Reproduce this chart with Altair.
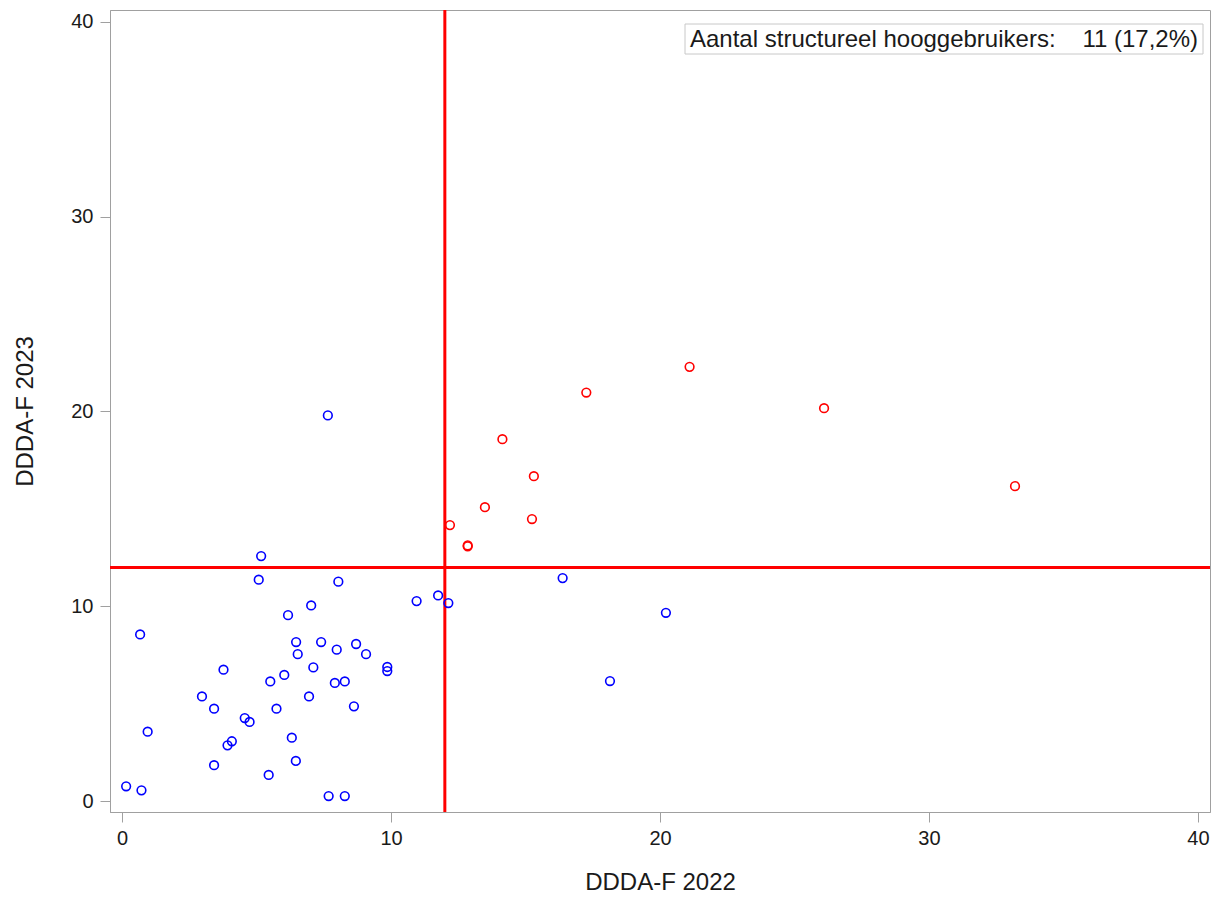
import altair as alt
import pandas as pd

# Values (DDDA-F 2022 vs DDDA-F 2023)
blue_x = [5.17, 5.08, 8.04, 7.03, 6.17, 10.95, 11.75, 12.13, 0.67, 6.47, 7.40, 8.70,
          6.53, 7.98, 9.07, 7.11, 9.86, 9.86, 3.77, 6.03, 5.51, 7.91, 8.28, 2.97,
          6.95, 3.42, 5.74, 8.62, 4.56, 4.74, 0.95, 6.31, 4.08, 3.92, 3.42, 6.46,
          5.45, 0.15, 0.72, 7.68, 8.28, 7.65, 16.38, 20.22, 18.14]
blue_y = [12.58, 11.37, 11.27, 10.05, 9.55, 10.27, 10.56, 10.17, 8.56, 8.17, 8.17, 8.07,
          7.55, 7.78, 7.55, 6.87, 6.89, 6.68, 6.75, 6.48, 6.15, 6.07, 6.15, 5.38,
          5.38, 4.75, 4.75, 4.87, 4.27, 4.07, 3.57, 3.26, 3.08, 2.87, 1.85, 2.07,
          1.35, 0.77, 0.56, 0.27, 0.27, 19.80, 11.45, 9.67, 6.17]
red_x = [12.19, 12.85, 12.85, 13.49, 14.14, 15.24, 15.31, 17.26, 21.10, 26.10, 33.20]
red_y = [14.17, 13.13, 13.08, 15.09, 18.58, 14.48, 16.68, 20.97, 22.29, 20.17, 16.17]

threshold_x = 12
threshold_y = 12
axis_ticks = [0, 10, 20, 30, 40]
box_label = "Aantal structureel hooggebruikers:"
box_value = "11 (17,2%)"

df = pd.DataFrame({
    "x": blue_x + red_x,
    "y": blue_y + red_y,
    "g": ["laag"] * len(blue_x) + ["hoog"] * len(red_x),
})

FONT = "Liberation Sans"
GRAY = "#a0a0a0"

xs = alt.Scale(domain=[-0.45, 40.45], nice=False, zero=False)
ys = alt.Scale(domain=[-0.55, 40.6], nice=False, zero=False)

xaxis = alt.Axis(values=axis_ticks, title="DDDA-F 2022", grid=False, tickSize=10,
                 labelPadding=6, labelFontSize=20, labelFont=FONT, labelColor="#1a1a1a",
                 titleFont=FONT, titleFontSize=24, titleFontWeight="normal",
                 titleColor="#1a1a1a", titleY=70, titleBaseline="middle",
                 domainColor=GRAY, tickColor=GRAY)
yaxis = alt.Axis(values=axis_ticks, title="DDDA-F 2023", grid=False, tickSize=10,
                 labelPadding=7, labelFontSize=20, labelFont=FONT, labelColor="#1a1a1a",
                 titleFont=FONT, titleFontSize=24, titleFontWeight="normal",
                 titleColor="#1a1a1a", titleX=-85, titleBaseline="middle",
                 domainColor=GRAY, tickColor=GRAY)

points = alt.Chart(df).mark_point(shape="circle", filled=False, size=75, strokeWidth=1.6,
                                  opacity=1).encode(
    x=alt.X("x:Q", scale=xs, axis=xaxis),
    y=alt.Y("y:Q", scale=ys, axis=yaxis),
    color=alt.Color("g:N", scale=alt.Scale(domain=["laag", "hoog"], range=["#0000ff", "#ff0000"]),
                    legend=None),
)

one = pd.DataFrame({"a": [0]})
vline = alt.Chart(one).mark_rule(color="#ff0000", strokeWidth=3).encode(
    x=alt.datum(threshold_x, scale=xs))
hline = alt.Chart(one).mark_rule(color="#ff0000", strokeWidth=3).encode(
    y=alt.datum(threshold_y, scale=ys))

box = alt.Chart(one).mark_rect(fill="white", stroke="#c8c8c8", strokeWidth=1).encode(
    x=alt.value(575), x2=alt.value(1093), y=alt.value(14), y2=alt.value(44))
txt1 = alt.Chart(one).mark_text(text=box_label, font=FONT, fontSize=24, color="#1a1a1a",
                                align="left", baseline="middle").encode(
    x=alt.value(580), y=alt.value(30))
txt2 = alt.Chart(one).mark_text(text=box_value, font=FONT, fontSize=24, color="#1a1a1a",
                                align="right", baseline="middle").encode(
    x=alt.value(1088), y=alt.value(30))

chart = alt.layer(vline, hline, points, box, txt1, txt2).properties(
    width=1100, height=802,
    padding={"left": 110, "top": 10, "right": 11, "bottom": 87},
    autosize=alt.AutoSizeParams(type="none"),
    background="white",
).configure_view(stroke=GRAY, strokeWidth=1)

chart.save("out.html", embed_options={"renderer": "svg", "actions": False})
